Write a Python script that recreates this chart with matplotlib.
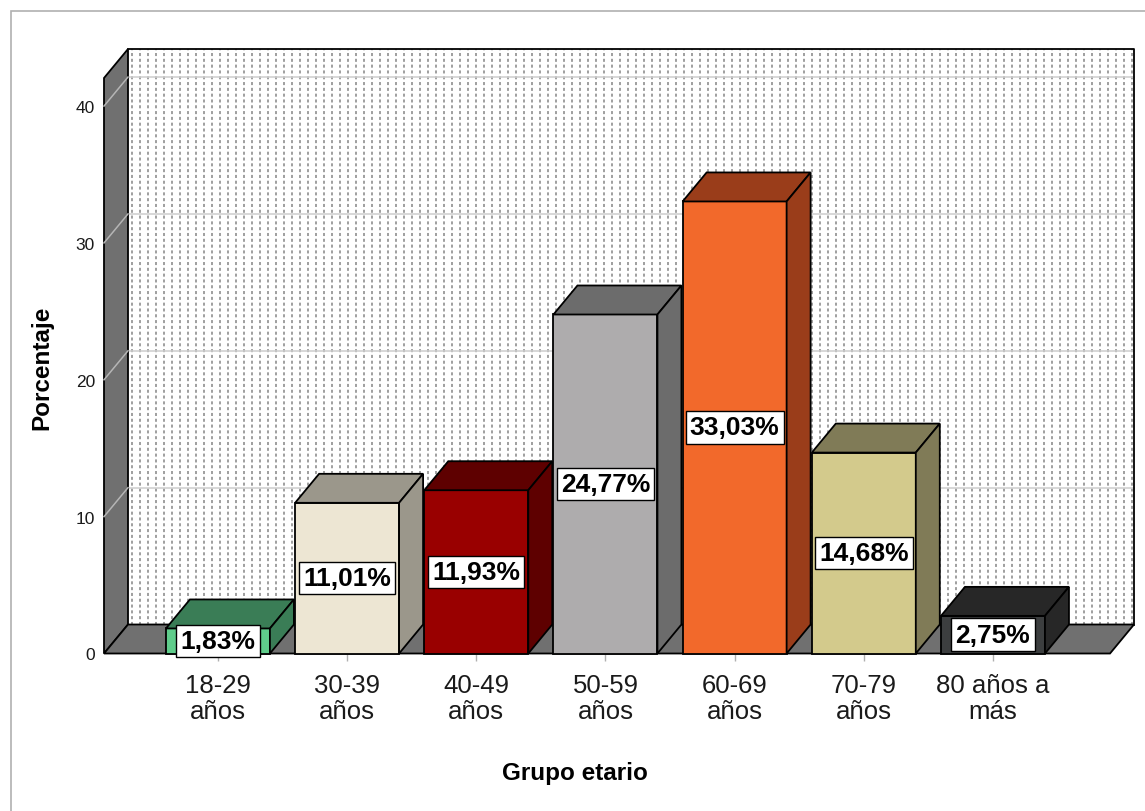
import numpy as np
import matplotlib.pyplot as plt
from matplotlib.patches import Rectangle, Polygon

grupos = ['18-29\naños', '30-39\naños', '40-49\naños', '50-59\naños',
          '60-69\naños', '70-79\naños', '80 años a\nmás']
porcentajes = [1.83, 11.01, 11.93, 24.77, 33.03, 14.68, 2.75]
y_ticks = [0, 10, 20, 30, 40]

# front colour / top+side colour of each box
caras = ['#5fcd8b', '#ede6d3', '#990000', '#aeacad', '#f2692b', '#d3ca8c', '#3c3e3f']
sombras = ['#3a7d56', '#9b978b', '#5e0000', '#6c6c6c', '#9a3d1a', '#807b57', '#272727']

FUENTE = ['Liberation Sans Narrow', 'Liberation Sans', 'DejaVu Sans']
plt.rcParams['font.family'] = FUENTE

W, H = 1145, 812
fig = plt.figure(figsize=(W / 100, H / 100), dpi=100)
ax = fig.add_axes([104 / W, (H - 654.5) / H, (1110 - 104) / W, (654.5 - 79) / H])
ax.patch.set_visible(False)
for s in ax.spines.values():
    s.set_visible(False)

xmin, xmax = -0.882, 6.906
ymax = 42.05
ax.set_xlim(xmin, xmax)
ax.set_ylim(0, ymax)

# depth of the boxes in data units (24 px right, 29 px up)
dx = 24 * (xmax - xmin) / (1110 - 104)
dy = 29 * ymax / (654.5 - 79)
ancho = 0.805

# back wall with the dotted fill and grid
ax.add_patch(Rectangle((xmin + dx, dy), xmax - xmin, ymax, fc='white', ec='none',
                       zorder=1, clip_on=False))
xs = np.arange(xmin + dx + 0.03, xmax + dx, 8 * (xmax - xmin) / 1006)
ax.vlines(xs, dy, ymax + dy, colors='#858585', linewidth=1.1,
          linestyles=(0, (2.0, 1.8)), zorder=1.2, clip_on=False)
for t in y_ticks[1:]:
    ax.plot([xmin + dx, xmax + dx], [t + dy, t + dy], color='#cdcdcd', lw=1.1,
            zorder=1.3, clip_on=False)
ax.plot([xmin + dx, xmax + dx, xmax + dx], [ymax + dy, ymax + dy, dy],
        color='black', lw=1.3, zorder=1.4, clip_on=False)

# left wall and floor
pared = [(xmin, 0), (xmin + dx, dy), (xmin + dx, ymax + dy), (xmin, ymax)]
ax.add_patch(Polygon(pared, fc='#707070', ec='black', lw=1.3, zorder=2, clip_on=False))
piso = [(xmin, 0), (xmax, 0), (xmax + dx, dy), (xmin + dx, dy)]
ax.add_patch(Polygon(piso, fc='#707070', ec='black', lw=1.3, zorder=2, clip_on=False))
for t in y_ticks[1:]:
    ax.plot([xmin, xmin + dx], [t, t + dy], color='#b5b5b5', lw=1.1, zorder=2.1,
            clip_on=False)

# 3D bars
for i, (v, c, s) in enumerate(zip(porcentajes, caras, sombras)):
    x0, x1 = i - ancho / 2, i + ancho / 2
    z = 3 + i
    ax.add_patch(Rectangle((x0, 0), ancho, v, fc=c, ec='black', lw=1.3, zorder=z,
                           clip_on=False))
    tapa = [(x0, v), (x1, v), (x1 + dx, v + dy), (x0 + dx, v + dy)]
    ax.add_patch(Polygon(tapa, fc=s, ec='black', lw=1.3, zorder=z, clip_on=False))
    lado = [(x1, 0), (x1 + dx, dy), (x1 + dx, v + dy), (x1, v)]
    ax.add_patch(Polygon(lado, fc=s, ec='black', lw=1.3, zorder=z, clip_on=False))
    ax.text(i, v / 2, f'{v:.2f}%'.replace('.', ','), ha='center', va='center',
            fontsize=19, fontweight='bold', zorder=20,
            bbox=dict(boxstyle='square,pad=0.16', fc='white', ec='black', lw=1.0))

ax.set_xticks(range(len(grupos)))
ax.set_xticklabels(grupos, fontsize=18.5, linespacing=1.1, color='#1a1a1a')
ax.tick_params(axis='x', length=5, width=1, color='#b0b0b0', pad=9)
ax.set_yticks(y_ticks)
ax.tick_params(axis='y', length=0, pad=6.5, labelsize=12.5, labelcolor='#1a1a1a')

ax.set_xlabel('Grupo etario', fontsize=17.5, fontweight='bold', va='center')
ax.xaxis.set_label_coords((575 - 104) / 1006, (654.5 - 774) / 575.5)
ax.set_ylabel('Porcentaje', fontsize=17.5, fontweight='bold', va='center')
ax.yaxis.set_label_coords((42 - 104) / 1006, (654.5 - 368) / 575.5)

# light frame round the chart
fig.add_artist(Rectangle((11 / W, -0.02), 1.1, (H - 12) / H + 0.02, fill=False,
                         ec='#b0b0b0', lw=1.2, transform=fig.transFigure))

fig.savefig('out.png', dpi=100)
